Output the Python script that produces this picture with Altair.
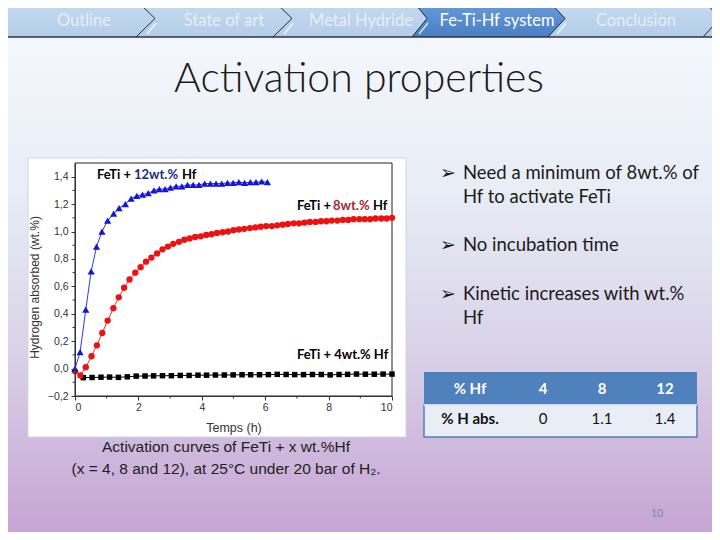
import altair as alt
import pandas as pd

# ---------------- data ----------------
t_12 = [0, 0.16, 0.34, 0.51, 0.68, 0.85, 1.03, 1.22, 1.39, 1.59, 1.77, 1.95, 2.13, 2.31,
        2.49, 2.66, 2.84, 3.01, 3.19, 3.37, 3.55, 3.73, 3.91, 4.09, 4.27, 4.45, 4.63,
        4.81, 4.99, 5.17, 5.35, 5.53, 5.71, 5.89, 6.07]
h_12 = [0.0, 0.12, 0.43, 0.71, 0.89, 1.00, 1.08, 1.13, 1.17, 1.20, 1.24, 1.26, 1.27, 1.28,
        1.30, 1.31, 1.31, 1.32, 1.33, 1.33, 1.34, 1.34, 1.34, 1.35, 1.35, 1.35, 1.35,
        1.355, 1.355, 1.36, 1.355, 1.36, 1.36, 1.365, 1.36]

t_8 = [0, 0.17, 0.34, 0.52, 0.69, 0.86, 1.03, 1.21, 1.38, 1.55, 1.72, 1.90, 2.07, 2.24,
       2.41, 2.59, 2.76, 2.93, 3.10, 3.28, 3.45, 3.62, 3.79, 3.97, 4.14, 4.31, 4.48, 4.66,
       4.83, 5.00, 5.17, 5.34, 5.52, 5.69, 5.86, 6.03, 6.21, 6.38, 6.55, 6.72, 6.90, 7.07,
       7.24, 7.41, 7.59, 7.76, 7.93, 8.10, 8.28, 8.45, 8.62, 8.79, 8.97, 9.14, 9.31, 9.48,
       9.66, 9.83, 10.0]
h_8 = [-0.02, -0.05, 0.01, 0.09, 0.17, 0.26, 0.35, 0.44, 0.52, 0.59, 0.65, 0.70, 0.74, 0.78,
       0.81, 0.84, 0.87, 0.89, 0.91, 0.925, 0.94, 0.95, 0.96, 0.965, 0.975, 0.98, 0.99, 0.995,
       1.00, 1.01, 1.015, 1.02, 1.025, 1.03, 1.035, 1.04, 1.04, 1.045, 1.05, 1.055, 1.06, 1.06,
       1.065, 1.07, 1.07, 1.075, 1.075, 1.08, 1.08, 1.085, 1.085, 1.09, 1.09, 1.09, 1.09, 1.095,
       1.095, 1.095, 1.10]

t_4 = [0.26, 0.54, 0.82, 1.09, 1.37, 1.65, 1.93, 2.21, 2.48, 2.76, 3.04, 3.32, 3.60, 3.88,
       4.15, 4.43, 4.71, 4.99, 5.27, 5.54, 5.82, 6.10, 6.38, 6.66, 6.93, 7.21, 7.49, 7.77,
       8.05, 8.33, 8.60, 8.88, 9.16, 9.44, 9.72, 10.0]
h_4 = [-0.066, -0.065, -0.063, -0.062, -0.064, -0.060, -0.055, -0.054, -0.053, -0.052,
       -0.052, -0.050, -0.050, -0.048, -0.048, -0.047, -0.047, -0.046, -0.045, -0.045,
       -0.045, -0.044, -0.042, -0.043, -0.044, -0.044, -0.043, -0.043, -0.046, -0.043,
       -0.042, -0.040, -0.041, -0.041, -0.040, -0.040]

x_ticks = [0, 2, 4, 6, 8, 10]
x_minor = [1, 3, 5, 7, 9]
y_ticks = [-0.2, 0.0, 0.2, 0.4, 0.6, 0.8, 1.0, 1.2, 1.4]
y_minor = [-0.1, 0.1, 0.3, 0.5, 0.7, 0.9, 1.1, 1.3]

nav_items = ["Outline", "State of art", "Metal Hydride", "Fe-Ti-Hf system", "Conclusion"]
active_item = "Fe-Ti-Hf system"
slide_title = "Activation properties"
bullets = [["Need a minimum of 8wt.% of", "Hf to activate FeTi"],
           ["No incubation time"],
           ["Kinetic increases with wt.%", "Hf"]]
table_head = ["% Hf", "4", "8", "12"]
table_row = ["% H abs.", "0", "1.1", "1.4"]
caption = ["Activation curves of FeTi + x wt.%Hf",
           "(x = 4, 8 and 12), at 25°C under 20 bar of H₂."]
page_no = "10"

# ---------------- layout ----------------
W, H = 317, 233
OX, OY = 75, 163          # page position of plot origin
def px(x): return x - OX
def py(y): return y - OY

dummy = pd.DataFrame({"d": [0]})
FONT_AX = "Liberation Sans"
FONT_SL = "Lato"

xaxis = alt.Axis(values=x_ticks, title="Temps (h)", grid=False, zindex=1, format="d",
                 tickSize=4, tickColor="#333", domainColor="#333", labelColor="#333",
                 titleColor="#333", labelFont=FONT_AX, titleFont=FONT_AX, labelFontSize=10.5,
                 titleFontSize=12.5, titleFontWeight="normal", labelPadding=2, titlePadding=9)
yaxis = alt.Axis(values=y_ticks, title="Hydrogen absorbed (wt.%)", grid=False, zindex=1,
                 labelExpr="replace(format(datum.value, '.1f'), '.', ',')",
                 tickSize=4, tickColor="#333", domainColor="#333", labelColor="#333",
                 titleColor="#333", labelFont=FONT_AX, titleFont=FONT_AX, labelFontSize=10.5,
                 titleFontSize=12, titleFontWeight="normal", labelPadding=3, titlePadding=6,
                 titleY=124)
xs = alt.Scale(domain=[0, 10], nice=False, zero=False)
ys = alt.Scale(domain=[-0.2, 1.5], nice=False, zero=False)

def ex(): return alt.X("t:Q", scale=xs, axis=xaxis)
def ey(): return alt.Y("h:Q", scale=ys, axis=yaxis)

def rect(x1, y1, x2, y2, **kw):
    return alt.Chart(dummy).mark_rect(**kw).encode(
        x=alt.value(px(x1)), x2=alt.value(px(x2)), y=alt.value(py(y1)), y2=alt.value(py(y2)))

def rule(x1, y1, x2, y2, **kw):
    return alt.Chart(dummy).mark_rule(**kw).encode(
        x=alt.value(px(x1)), x2=alt.value(px(x2)), y=alt.value(py(y1)), y2=alt.value(py(y2)))

def txt(s, x, y, size, color="#111", font=FONT_SL, weight="normal", align="left",
        baseline="middle"):
    return alt.Chart(dummy).mark_text(text=s, font=font, fontSize=size, color=color,
                                      fontWeight=weight, align=align, baseline=baseline).encode(
        x=alt.value(px(x)), y=alt.value(py(y)))

layers = []

# slide background
bg = alt.LinearGradient(gradient="linear", x1=0, x2=0, y1=0, y2=1, stops=[
    alt.GradientStop(offset=0.0, color="#f7f9fd"),
    alt.GradientStop(offset=0.35, color="#e8edf6"),
    alt.GradientStop(offset=0.65, color="#d9d2e8"),
    alt.GradientStop(offset=1.0, color="#c6a2d3")])
layers.append(rect(0, 0, 720, 540, color=bg))

# navigation bar
navbg = alt.LinearGradient(gradient="linear", x1=0, x2=0, y1=0, y2=1, stops=[
    alt.GradientStop(offset=0.0, color="#c6dbf0"),
    alt.GradientStop(offset=1.0, color="#b4cde8")])
layers.append(rect(0, 0, 720, 37, color=navbg))
# active chevron (custom symbol path within the [-1, 1] box)
chev = "M -1 -0.2418 L 0.7778 -0.2418 L 1 0 L 0.7778 0.2418 L -1 0.2418 L -0.8039 0 Z"
actfill = alt.LinearGradient(gradient="linear", x1=0, x2=0, y1=0, y2=1, stops=[
    alt.GradientStop(offset=0.0, color="#6a9ddb"),
    alt.GradientStop(offset=1.0, color="#4a7fc3")])
layers.append(alt.Chart(dummy).mark_point(shape=chev, filled=True, size=153 * 153, opacity=1,
                                          color=actfill, strokeWidth=0).encode(
    x=alt.value(px(488.5)), y=alt.value(py(18.5))))
for r_, tip in [(136, 155), (273, 292), (412, 427), (548, 565), (703, 720)]:
    layers.append(rule(r_, 0, tip, 18.5, color="#1f2a36", strokeWidth=1))
    layers.append(rule(tip, 18.5, r_, 37, color="#1f2a36", strokeWidth=1))
    layers.append(rule(tip + 1, 23, tip - 8, 34, color="#ffffff", strokeWidth=1.5, opacity=0.8))
layers.append(rule(2, 2, 2, 35, color="#ffffff", strokeWidth=1.2, opacity=0.8))
layers.append(rule(0, 37, 720, 37, color="#2a3542", strokeWidth=1.5))
for name, cx in zip(nav_items, [84, 224, 361, 497, 636]):
    layers.append(txt(name, cx, 21, 16.5, color="#ffffff" if name == active_item else "#e6eef8",
                      align="center"))

# title
layers.append(txt(slide_title, 359, 92, 41, color="#1a1a1a", weight=300, align="center",
                  baseline="alphabetic"))

# bullets
line_y = [[179, 203], [251], [300, 324]]
for blines, ys_ in zip(bullets, line_y):
    layers.append(txt("➢", 440, ys_[0], 19, color="#1a1a1a", font="DejaVu Sans",
                      baseline="alphabetic"))
    for s, yy in zip(blines, ys_):
        layers.append(txt(s, 463, yy, 18.5, color="#1a1a1a", baseline="alphabetic"))

# table
layers.append(rect(424, 372, 697, 405, color="#4f81bd"))
layers.append(rect(424, 405, 697, 437, color="#e9edf5", stroke="#4f81bd", strokeWidth=1.5))
layers.append(rule(424, 405, 697, 405, color="#ffffff", strokeWidth=1.5))
col_x = [470, 543, 602, 665]
for i, (hd, rv) in enumerate(zip(table_head, table_row)):
    layers.append(txt(hd, col_x[i], 389, 15, color="#ffffff", weight="bold", align="center"))
    layers.append(txt(rv, col_x[i], 419, 15, color="#111111",
                      weight="bold" if i == 0 else "normal", align="center"))

# caption and page number
layers.append(txt(caption[0], 226, 452, 15.5, color="#222222", font=FONT_AX, align="center",
                  baseline="alphabetic"))
layers.append(txt(caption[1], 226, 474, 15.5, color="#222222", font=FONT_AX, align="center",
                  baseline="alphabetic"))
layers.append(txt(page_no, 657, 514, 11, color="#8088b4", align="center"))

# white picture box
layers.append(rect(28, 158, 406, 437, color="#ffffff", stroke="#cfd6e2", strokeWidth=1))

# plot frame
layers.append(alt.Chart(dummy).mark_rect(fillOpacity=0, stroke="#222222", strokeWidth=1).encode(
    x=alt.value(0), x2=alt.value(W), y=alt.value(0), y2=alt.value(H)))

# minor ticks
layers.append(alt.Chart(pd.DataFrame({"t": x_minor})).mark_rule(color="#333", strokeWidth=1).encode(
    x=ex(), y=alt.value(H), y2=alt.value(H + 2.5)))
layers.append(alt.Chart(pd.DataFrame({"h": y_minor})).mark_rule(color="#333", strokeWidth=1).encode(
    y=ey(), x=alt.value(0), x2=alt.value(-2.5)))

# series
series = [
    (t_4, h_4, "#000000", "#000000", "square", 30),
    (t_8, h_8, "#ee1111", "#e83030", "circle", 40),
    (t_12, h_12, "#1515d8", "#2a3ae8", "triangle-up", 52),
]
for tt, hh, mc, lc, shp, sz in series:
    df = pd.DataFrame({"t": tt, "h": hh})
    base = alt.Chart(df).encode(x=ex(), y=ey())
    layers.append(base.mark_line(color=lc, strokeWidth=1))
    layers.append(base.mark_point(shape=shp, filled=True, size=sz, color=mc, opacity=1))

# in-plot labels
LS = 13
layers.append(txt("FeTi + ", 97, 175, LS, color="#000000", weight="bold"))
layers.append(txt("12wt.%", 134, 175, LS, color="#1b2a85", weight="bold"))
layers.append(txt("Hf", 182, 175, LS, color="#000000", weight="bold"))
layers.append(txt("FeTi + ", 297, 206, LS, color="#000000", weight="bold"))
layers.append(txt("8wt.%", 333, 206, LS, color="#a3282c", weight="bold"))
layers.append(txt("Hf", 373, 206, LS, color="#000000", weight="bold"))
layers.append(txt("FeTi + 4wt.% Hf", 297, 355, LS, color="#000000", weight="bold"))

chart = alt.layer(*layers).properties(
    width=W, height=H,
    padding={"left": 67, "top": 155, "right": 704 - 67 - W, "bottom": 524 - 155 - H},
    autosize=alt.AutoSizeParams(type="none"),
).configure_view(strokeWidth=0).configure(background="#ffffff")

chart.save("out.html", embed_options={"renderer": "svg", "actions": False})
